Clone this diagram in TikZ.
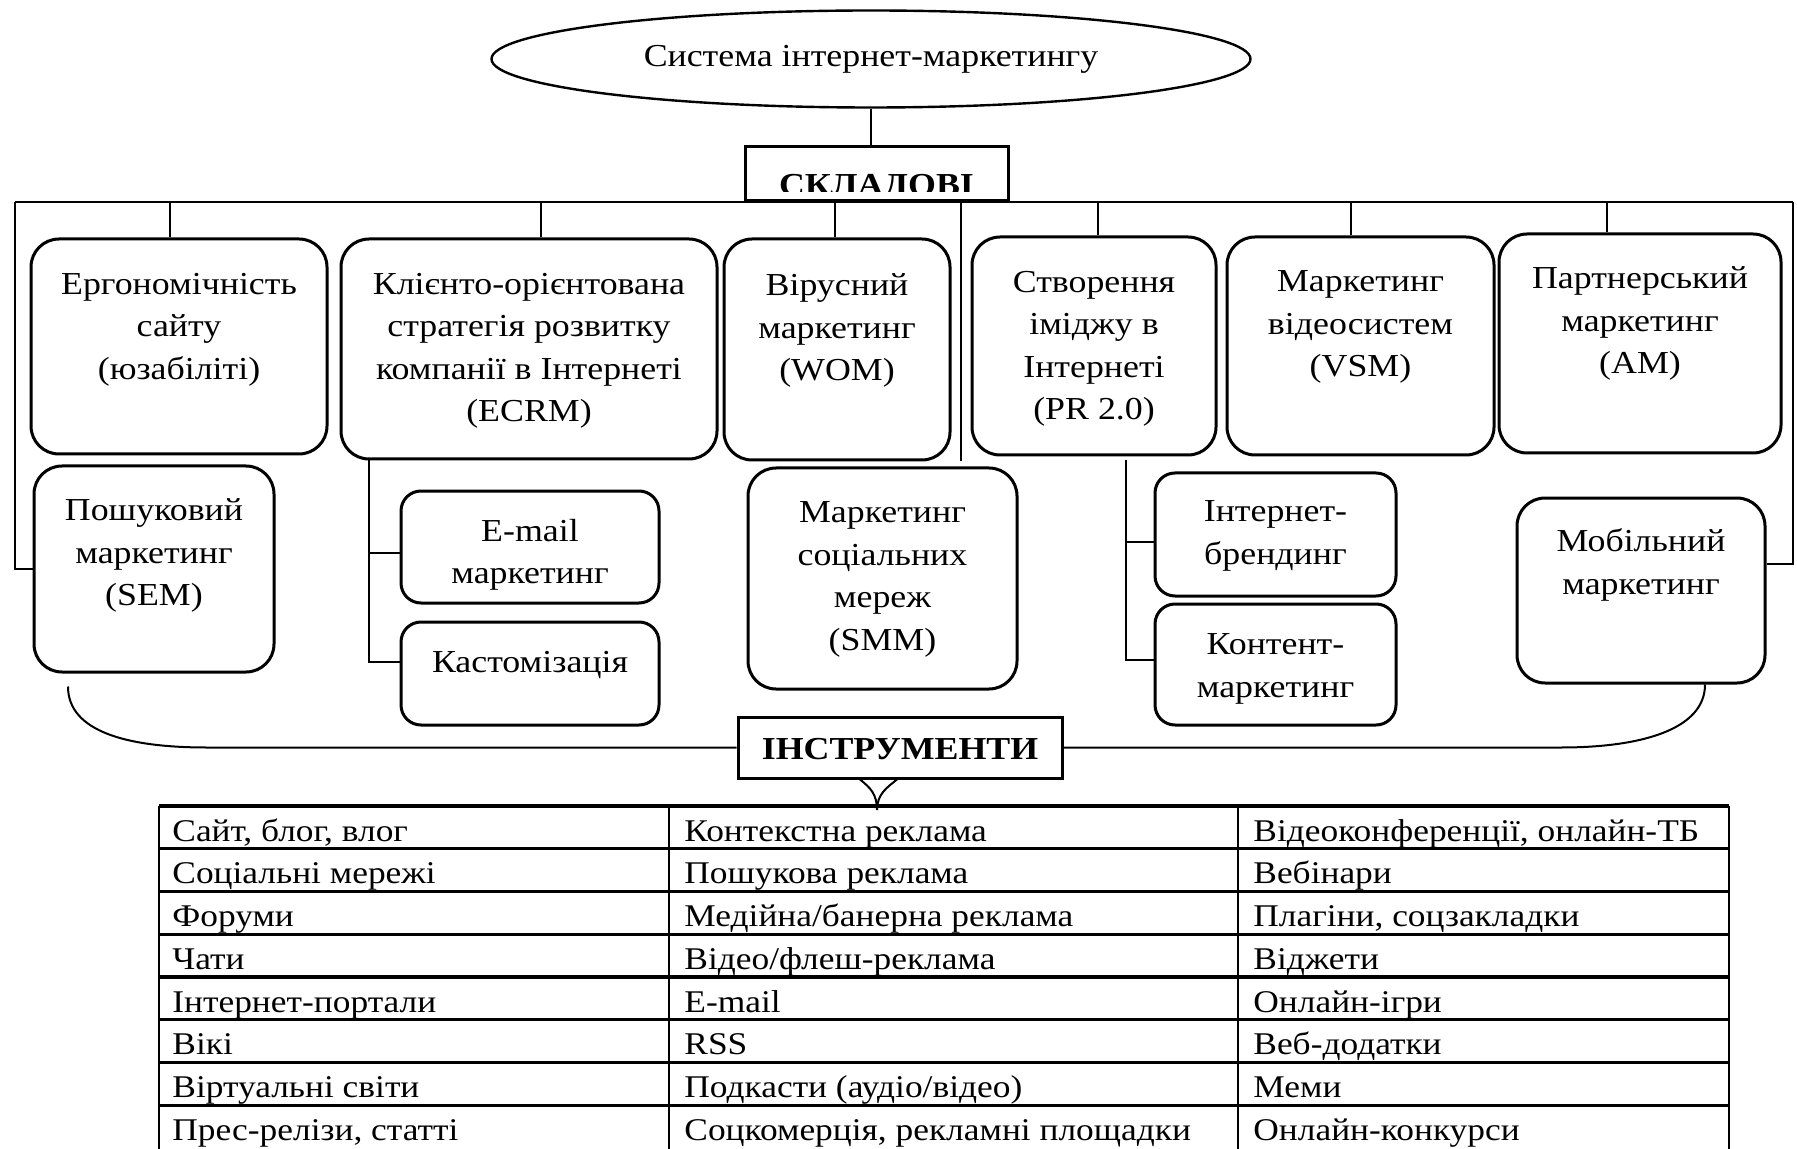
\documentclass[tikz,border=0pt]{standalone}
\usepackage{fontspec}
\setmainfont{Liberation Serif}[FakeStretch=1.12]
\usepackage{tikz}
\usetikzlibrary{shapes.geometric,positioning}

\begin{document}
\begin{tikzpicture}[x=0.5pt,y=-0.5pt,
  tile/.style={draw,line width=1.5pt,rounded corners=14pt,inner sep=0pt},
  smalltile/.style={tile,rounded corners=10pt},
  tiletext/.style={align=center,inner sep=0pt,font=\fontsize{16}{21.25}\selectfont},
  headbox/.style={draw,line width=1.5pt,inner sep=0pt,font=\fontsize{16}{19}\selectfont\bfseries},
  link/.style={line width=1pt},
  cell/.style={anchor=base west,inner sep=0pt,font=\fontsize{15.8}{18}\selectfont}]
\useasboundingbox (0,0) rectangle (1797,1149);

% top
\node[draw,ellipse,line width=1.2pt,minimum width=379.5pt,minimum height=48.5pt,inner sep=0pt,
  font=\fontsize{16}{19}\selectfont] (sys) at (871,59) {Система інтернет-маркетингу};
\node[headbox,minimum width=131.5pt,minimum height=27pt] (sklad) at (876.5,174) {};
\begin{scope}
  \clip (sklad.north west) rectangle ([yshift=5.5pt]sklad.south east);
  \node[headbox,draw=none,anchor=base] (sklad-t) at ([yshift=3.5pt]sklad.south) {СКЛАДОВІ};
\end{scope}
\draw[link] (sys.south) -- (sys.south |- sklad.north);
\coordinate (busl) at (15,202);
\coordinate (busr) at (1793,202);
\draw[link] (busl) -- (busr);

% first row
\node[tile,minimum width=148pt,minimum height=107.5pt] (ergo) at (179,346.5) {};
\node[tiletext,below=17.5pt of ergo.north] (ergo-t) {Ергономічність\\сайту\\(юзабіліті)};
\node[tile,minimum width=188pt,minimum height=110pt] (ecrm) at (529,349) {};
\node[tiletext,below=17.5pt of ecrm.north] (ecrm-t) {Клієнто-орієнтована\\стратегія розвитку\\компанії в Інтернеті\\(ECRM)};
\node[tile,minimum width=113pt,minimum height=110.5pt] (wom) at (837,349.5) {};
\node[tiletext,below=18pt of wom.north] (wom-t) {Вірусний\\маркетинг\\(WOM)};
\node[tile,minimum width=122pt,minimum height=109pt] (pr) at (1094,346) {};
\node[tiletext,below=17.5pt of pr.north] (pr-t) {Створення\\іміджу в\\Інтернеті\\(PR 2.0)};
\node[tile,minimum width=133.5pt,minimum height=109pt] (vsm) at (1360.5,346) {};
\node[tiletext,below=17.5pt of vsm.north] (vsm-t) {Маркетинг\\відеосистем\\(VSM)};
\node[tile,minimum width=141pt,minimum height=109.5pt] (am) at (1640,343.5) {};
\node[tiletext,below=17pt of am.north] (am-t) {Партнерський\\маркетинг\\(AM)};

% second row
\node[tile,minimum width=120pt,minimum height=103pt] (sem) at (154,569) {};
\node[tiletext,below=17pt of sem.north] (sem-t) {Пошуковий\\маркетинг\\(SEM)};
\node[smalltile,minimum width=129pt,minimum height=56pt] (email) at (530,547) {};
\node[tiletext,below=14.5pt of email.north] (email-t) {E-mail\\маркетинг};
\node[smalltile,minimum width=129pt,minimum height=51.5pt] (kast) at (530,673.5) {};
\node[tiletext,below=15pt of kast.north] (kast-t) {Кастомізація};
\node[tile,minimum width=134.5pt,minimum height=110.5pt] (smm) at (882.5,578.5) {};
\node[tiletext,below=17.5pt of smm.north] (smm-t) {Маркетинг\\соціальних\\мереж\\(SMM)};
\node[smalltile,minimum width=120.5pt,minimum height=61.5pt] (brand) at (1275.5,534.5) {};
\node[tiletext,below=14.5pt of brand.north] (brand-t) {Інтернет-\\брендинг};
\node[smalltile,minimum width=120.5pt,minimum height=60.5pt] (kont) at (1275.5,664.5) {};
\node[tiletext,below=15.5pt of kont.north] (kont-t) {Контент-\\маркетинг};
\node[tile,minimum width=124pt,minimum height=92.5pt] (mob) at (1641,590.5) {};
\node[tiletext,below=16pt of mob.north] (mob-t) {Мобільний\\маркетинг};

% links to the bus
\foreach \n/\dx in {ergo/-4.5,ecrm/6,wom/-1,pr/2,vsm/-5,am/-16.5}{
  \path ([xshift=\dx pt]\n.north) coordinate (\n-top);
  \draw[link] (\n-top) -- (\n-top |- busl);
}
\path ([xshift=39.25pt,yshift=2.5pt]smm.north) coordinate (smm-top);
\draw[link] (smm-top) -- (smm-top |- busl);
\draw[link] (busl) |- (sem.west);
\draw[link] (busr) |- ([yshift=13.5pt]mob.east);

% forks
\coordinate (ecrmfork) at ([xshift=14.5pt]ecrm.south west);
\draw[link] (ecrmfork) |- ([yshift=-3pt]email.west);
\draw[link] (ecrmfork) |- ([yshift=5.75pt]kast.west);
\coordinate (prfork) at ([xshift=77.5pt,yshift=-2pt]pr.south west);
\draw[link] (prfork) |- ([yshift=-3.75pt]brand.west);
\draw[link] (prfork) |- ([yshift=2.25pt]kont.west);

% tools
\node[headbox,minimum width=162pt,minimum height=30.5pt,text height=13pt,text depth=1pt] (instr) at (900,747.5) {ІНСТРУМЕНТИ};
\coordinate (lfoot) at ([xshift=-43pt,yshift=-6.5pt]sem.south);
\coordinate (rfoot) at ([xshift=32pt]mob.south);
\path (lfoot |- instr.west) ++(139,0) coordinate (lbend);
\path (rfoot |- instr.east) ++(-144,0) coordinate (rbend);
\draw[link] (lfoot) .. controls +(0,45) and +(-80,0) .. (lbend) -- (instr.west);
\draw[link] (rfoot) .. controls +(0,45) and +(80,0) .. (rbend) -- (instr.east);
\coordinate (forkl) at ([xshift=-20pt]instr.south);
\coordinate (forkr) at ([xshift=-1.5pt]instr.south);
\coordinate (forktip) at (877,810);
\draw[link] (forkl) .. controls +(10,8) and +(0,-16) .. (forktip);
\draw[link] (forkr) .. controls +(-10,8) and +(0,-16) .. (forktip);

% table
\foreach \k in {0,...,7}
  \draw[line width=1.6pt] (159,{806+42.75*\k}) -- (1729,{806+42.75*\k});
\foreach \cx in {159,669,1238,1729}
  \draw[line width=1pt] (\cx,806) -- (\cx,1149);
\foreach \ca/\cb/\cc [count=\r] in {
  {Сайт, блог, влог}/Контекстна реклама/{Відеоконференції, онлайн-ТБ},
  Соціальні мережі/Пошукова реклама/Вебінари,
  Форуми/Медійна\slash банерна реклама/{Плагіни, соцзакладки},
  Чати/Відео\slash флеш-реклама/Віджети,
  Інтернет-портали/E-mail/Онлайн-ігри,
  Вікі/RSS/Веб-додатки,
  Віртуальні світи/Подкасти (аудіо\slash відео)/Меми,
  {Прес-релізи, статті}/{Соцкомерція, рекламні площадки}/Онлайн-конкурси}{
  \node[cell] (t\r-a) at (172,{806+42.75*(\r-1)+35}) {\ca};
  \node[cell] (t\r-b) at (684,{806+42.75*(\r-1)+35}) {\cb};
  \node[cell] (t\r-c) at (1253,{806+42.75*(\r-1)+35}) {\cc};
}
\end{tikzpicture}
\end{document}
